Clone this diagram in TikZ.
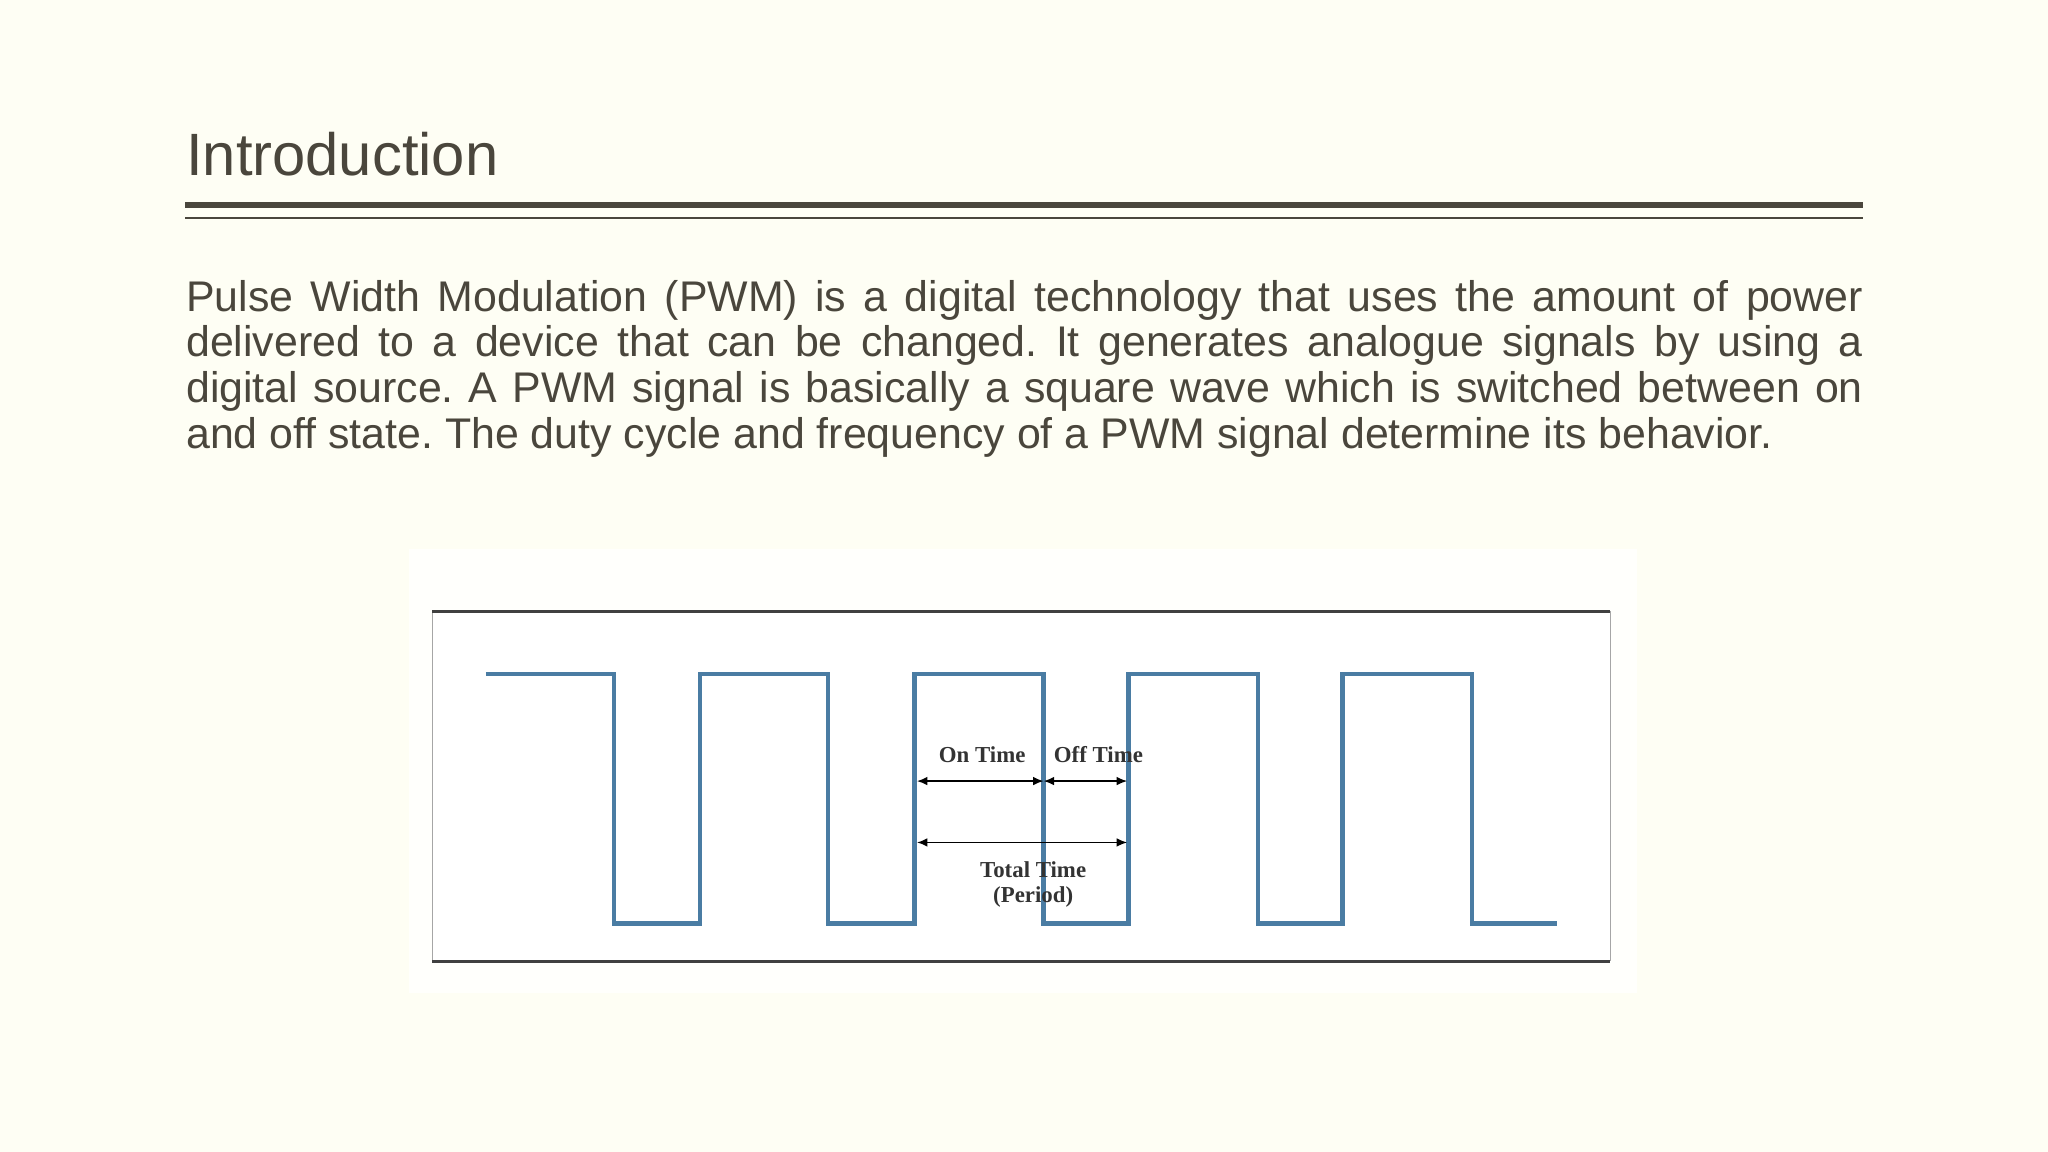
\documentclass[tikz,border=0pt]{standalone}
\usepackage{fontspec}
\setmainfont{Liberation Sans}
\newfontfamily\serifb{Liberation Serif}
\usetikzlibrary{arrows.meta}
\definecolor{bg}{HTML}{FEFEF4}
\definecolor{txt}{HTML}{4A463C}
\definecolor{wave}{HTML}{4A7CA3}
\tikzset{
  wv/.style={draw=wave,line width=1.3pt,line join=miter},
  lbl/.style={font=\serifb\bfseries\fontsize{6.5}{7}\selectfont,text=black!80,inner sep=0pt,align=center},
  dim/.style={draw=black,line width=0.5pt,{Latex[length=3pt,width=2.5pt]}-{Latex[length=3pt,width=2.5pt]}}
}
\begin{document}
\frenchspacing
\begin{tikzpicture}[x=0.01306cm,y=-0.01306cm]
\fill[bg] (0,0) rectangle (1568,882);
\useasboundingbox (0,0) rectangle (1568,882);
\node[anchor=base west,inner sep=0pt,text=txt,font=\fontsize{17}{20}\selectfont] (title) at (142,134) {Introduction};
\draw[txt,line width=1.9pt] (142,157) coordinate (l1a) -- (1426,157) coordinate (l1b);
\draw[txt,line width=0.5pt] (142,167) coordinate (l2a) -- (1426,167) coordinate (l2b);
\node[anchor=north west,inner sep=0pt,text=txt,text width=1284*0.3716pt,align=justify,font=\fontsize{12.2}{13}\selectfont] (para) at (142,214) {Pulse Width Modulation (PWM) is a digital technology that uses the amount of power\linebreak delivered to a device that can be changed. It generates analogue signals by using a\linebreak digital source. A PWM signal is basically a square wave which is switched between on\linebreak and off state. The duty cycle and frequency of a PWM signal determine its behavior.};
\fill[white!70!bg] (313,420) rectangle (1253,760);
\fill[white] (331,468) rectangle (1233,736);
\draw[gray!70,line width=0.4pt] (331,468) -- (331,736) (1233,468) -- (1233,736);
\draw[black!75,line width=0.9pt] (331,468) -- (1233,468) (331,736) -- (1233,736);
\draw[wv] (372,516) -- (470,516) -- (470,707) -- (536,707) -- (536,516) -- (634,516) -- (634,707) -- (700,707) -- (700,516) -- (799,516) -- (799,707) -- (864,707) -- (864,516) -- (963,516) -- (963,707) -- (1028,707) -- (1028,516) -- (1127,516) -- (1127,707) -- (1192,707);
\coordinate (a) at (702,598); \coordinate (b) at (799,598); \coordinate (c) at (863,598);
\coordinate (d) at (702,645); \coordinate (e) at (863,645);
\draw[dim] (a) -- (b);
\draw[dim] (b) -- (c);
\draw[dim] (d) -- (e);
\node[lbl] (on) at (752,578) {On Time};
\node[lbl] (off) at (841,578) {Off Time};
\node[lbl] (tot) at (791,677) {Total Time\\(Period)};
\end{tikzpicture}
\end{document}
